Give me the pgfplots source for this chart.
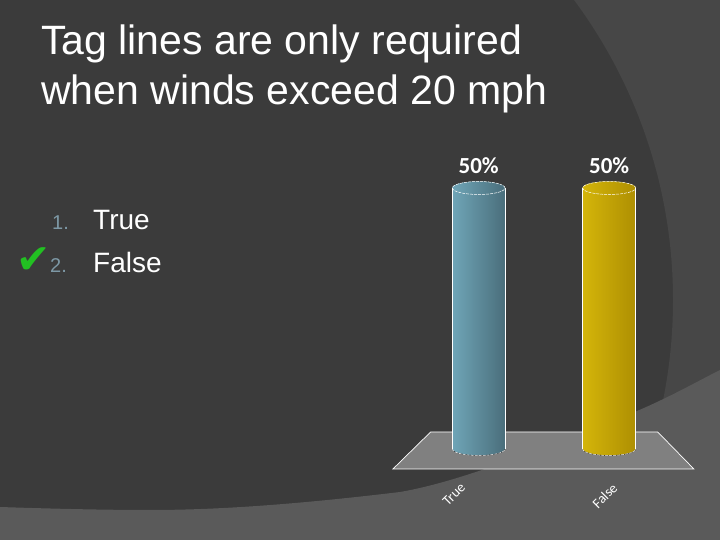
\documentclass[border=0pt]{standalone}
\usepackage{fontspec}
\setmainfont{Liberation Sans}
\newfontfamily\carlito{Carlito}
\newfontfamily\dejavu{DejaVu Sans}
\usepackage{pgfplots}
\pgfplotsset{compat=1.18}
\definecolor{bgdark}{HTML}{3B3B3B}
\definecolor{bgarc}{HTML}{474747}
\definecolor{bgband}{HTML}{5A5A5A}
\definecolor{floorc}{HTML}{808080}
\definecolor{bluel}{HTML}{6FA5B7}
\definecolor{bluer}{HTML}{4A6E7B}
\definecolor{bluetop}{HTML}{6A9BAC}
\definecolor{yell}{HTML}{D4B50A}
\definecolor{yelr}{HTML}{AE8F02}
\definecolor{yeltop}{HTML}{CBAD08}
\definecolor{numc}{HTML}{7D98A5}
\definecolor{checkg}{HTML}{22C022}

\pgfdeclareplotmark{captopblue}{%
  \fill[bluetop] (0pt,0pt) ellipse [x radius=26.35pt, y radius=6.5pt];
  \draw[white, line width=0.5pt, dash pattern=on 3pt off 1pt] (0pt,0pt) ellipse [x radius=26.35pt, y radius=6.5pt];
}
\pgfdeclareplotmark{captopyel}{%
  \fill[yeltop] (0pt,0pt) ellipse [x radius=26.5pt, y radius=6.5pt];
  \draw[white, line width=0.5pt, dash pattern=on 3pt off 1pt] (0pt,0pt) ellipse [x radius=26.5pt, y radius=6.5pt];
}
\pgfdeclareplotmark{capbotblue}{%
  \shade[left color=bluel, right color=bluer] (-26.35pt,4pt) -- (-26.35pt,0pt) arc[start angle=180, end angle=360, x radius=26.35pt, y radius=6.5pt] -- (26.35pt,4pt) -- cycle;
  \draw[white, line width=0.5pt, dash pattern=on 3pt off 1pt] (-26.35pt,0pt) arc[start angle=180, end angle=360, x radius=26.35pt, y radius=6.5pt];
}
\pgfdeclareplotmark{capbotyel}{%
  \shade[left color=yell, right color=yelr] (-26.5pt,4pt) -- (-26.5pt,0pt) arc[start angle=180, end angle=360, x radius=26.5pt, y radius=6.5pt] -- (26.5pt,4pt) -- cycle;
  \draw[white, line width=0.5pt, dash pattern=on 3pt off 1pt] (-26.5pt,0pt) arc[start angle=180, end angle=360, x radius=26.5pt, y radius=6.5pt];
}

\begin{document}
\begin{tikzpicture}[x=1pt,y=1pt]
\useasboundingbox (0,0) rectangle (720,540);
\fill[bgdark] (0,0) rectangle (720,540);
\begin{scope}
\clip (0,0) rectangle (720,540);
\fill[bgarc, even odd rule] (-10,-10) rectangle (730,550) (169,240) circle (504);
\fill[bgband] (0,0) -- (0,33) .. controls (60,31) and (110,30) .. (150,30)
  .. controls (220,30) and (300,36) .. (400,48)
  .. controls (470,60) and (560,100) .. (637,129)
  .. controls (670,143) and (700,160) .. (720,170) -- (720,0) -- cycle;
\end{scope}

% title
\node[anchor=base west, inner sep=0pt, text=white, font=\fontsize{41}{41}\selectfont] at (41,485) {Tag lines are only required};
\node[anchor=base west, inner sep=0pt, text=white, font=\fontsize{41}{41}\selectfont] at (41,435) {when winds exceed 20 mph};

% list
\node[anchor=base west, inner sep=0pt, text=numc, font=\fontsize{20}{20}\selectfont] at (52,310) {1.};
\node[anchor=base west, inner sep=0pt, text=white, font=\fontsize{28}{28}\selectfont] at (93,310) {True};
\node[anchor=base west, inner sep=0pt, text=numc, font=\fontsize{20}{20}\selectfont] at (50,267) {2.};
\node[anchor=base west, inner sep=0pt, text=white, font=\fontsize{28}{28}\selectfont] at (93,267) {False};
\node[anchor=base west, inner sep=0pt, text=checkg, font=\dejavu\fontsize{41}{41}\selectfont] at (16,266) {✔};

\begin{axis}[
  at={(380.8pt,54.46pt)}, anchor=south west,
  scale only axis, width=326.25pt, height=349.74pt,
  xmin=-0.75, xmax=1.75, ymin=-7, ymax=60,
  axis line style={draw=none}, major tick length=0pt,
  xtick={-0.12,1.044}, xticklabels={True,False}, ytick=\empty,
  xticklabel style={font=\carlito\fontsize{14}{14}\selectfont, text=white, rotate=45, anchor=east, inner sep=0pt},
  clip=false, clip marker paths=true,
  /pgf/number format/assume math mode=true,
  nodes near coords={\pgfmathprintnumber{\pgfplotspointmeta}\%},
  every node near coord/.append style={font=\carlito\bfseries\fontsize{23}{23}\selectfont, text=white, anchor=base, yshift=14.7pt},
]
% floor
\addplot[fill=floorc, draw=white, line width=0.7pt, mark=none, nodes near coords={}] coordinates {(-0.657,-3.83) (-0.368,3.26) (1.372,3.26) (1.649,-3.83)} -- cycle;
% True bar: bottom cap, body, top cap
\addplot[only marks, mark=capbotblue, nodes near coords={}] coordinates {(0,0)};
\addplot[ybar, bar width=52.7pt, bar shift=0pt, draw=none, left color=bluel, right color=bluer, mark=captopblue] coordinates {(0,50)};
% False bar
\addplot[only marks, mark=capbotyel, nodes near coords={}] coordinates {(1,0)};
\addplot[ybar, bar width=53pt, bar shift=0pt, draw=none, left color=yell, right color=yelr, mark=captopyel] coordinates {(1,50)};
% white side edges of the cylinders
\addplot[white, line width=0.5pt, mark=none, nodes near coords={}] coordinates {(-0.2019,0) (-0.2019,50)};
\addplot[white, line width=0.5pt, mark=none, nodes near coords={}] coordinates {(0.2019,0) (0.2019,50)};
\addplot[white, line width=0.5pt, mark=none, nodes near coords={}] coordinates {(0.7969,0) (0.7969,50)};
\addplot[white, line width=0.5pt, mark=none, nodes near coords={}] coordinates {(1.2031,0) (1.2031,50)};
\end{axis}
\end{tikzpicture}
\end{document}
